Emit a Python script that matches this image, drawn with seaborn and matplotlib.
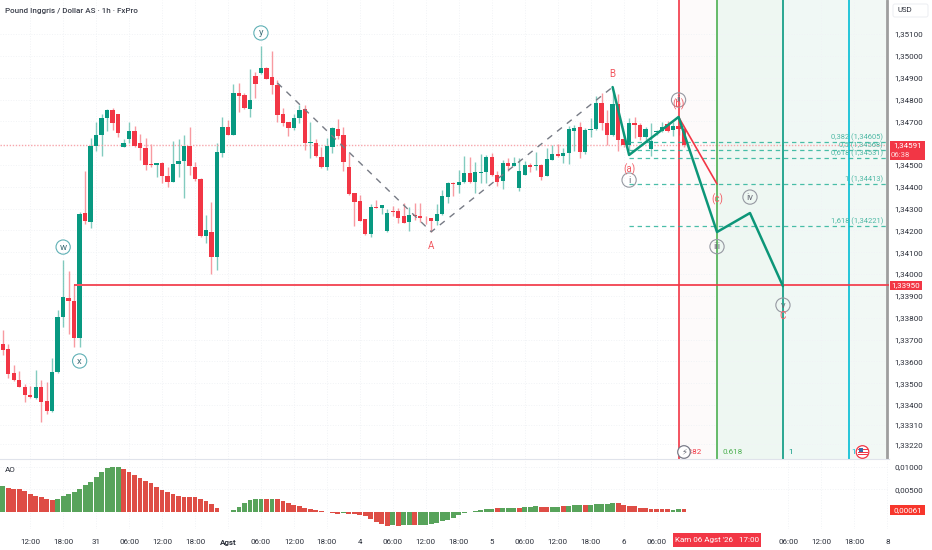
import numpy as np
import pandas as pd
import matplotlib
matplotlib.use("Agg")
import matplotlib.pyplot as plt
import matplotlib.transforms as mtransforms
from matplotlib.patches import Rectangle, Circle, FancyBboxPatch
import seaborn as sns

# candle values
open_ = [1.33680, 1.33655, 1.33548, 1.33515, 1.33484, 1.33446, 1.33432, 1.33484, 1.33418, 1.33373,
         1.33550, 1.33802, 1.33892, 1.33877, 1.33707, 1.34280, 1.34240, 1.34587, 1.34639, 1.34715,
         1.34752, 1.34734, 1.34581, 1.34618, 1.34657, 1.34599, 1.34577, 1.34505, 1.34500, 1.34508,
         1.34450, 1.34422, 1.34506, 1.34517, 1.34587, 1.34492, 1.34436, 1.34175, 1.34193, 1.34080,
         1.34556, 1.34676, 1.34639, 1.34831, 1.34819, 1.34757, 1.34908, 1.34922, 1.34943, 1.34903,
         1.34867, 1.34732, 1.34696, 1.34670, 1.34714, 1.34757, 1.34599, 1.34602, 1.34538, 1.34492,
         1.34584, 1.34666, 1.34637, 1.34489, 1.34370, 1.34336, 1.34251, 1.34182, 1.34308, 1.34304,
         1.34196, 1.34291, 1.34288, 1.34266, 1.34237, 1.34271, 1.34265, 1.34258, 1.34256, 1.34243,
         1.34275, 1.34353, 1.34418, 1.34408, 1.34421, 1.34462, 1.34421, 1.34465, 1.34468, 1.34537,
         1.34454, 1.34427, 1.34511, 1.34497, 1.34393, 1.34454, 1.34501, 1.34497, 1.34501, 1.34450,
         1.34523, 1.34550, 1.34541, 1.34554, 1.34657, 1.34674, 1.34560, 1.34660, 1.34664, 1.34783,
         1.34692, 1.34636, 1.34780, 1.34618, 1.34592, 1.34691, 1.34683, 1.34627, 1.34573, 1.34653,
         1.34657, 1.34687, 1.34660, 1.34679, 1.34665]
high = [1.33744, 1.33680, 1.33583, 1.33556, 1.33496, 1.33487, 1.33562, 1.33516, 1.33505, 1.33617,
        1.33835, 1.34065, 1.34016, 1.33950, 1.34285, 1.34473, 1.34624, 1.34698, 1.34734, 1.34757,
        1.34761, 1.34734, 1.34618, 1.34696, 1.34679, 1.34642, 1.34624, 1.34595, 1.34511, 1.34512,
        1.34492, 1.34610, 1.34619, 1.34637, 1.34676, 1.34515, 1.34440, 1.34271, 1.34330, 1.34599,
        1.34721, 1.34706, 1.34871, 1.34874, 1.34829, 1.34939, 1.34925, 1.35045, 1.34951, 1.35022,
        1.34890, 1.34760, 1.34698, 1.34734, 1.34774, 1.34775, 1.34698, 1.34618, 1.34582, 1.34622,
        1.34672, 1.34709, 1.34673, 1.34554, 1.34372, 1.34363, 1.34253, 1.34321, 1.34340, 1.34318,
        1.34297, 1.34313, 1.34302, 1.34324, 1.34309, 1.34324, 1.34324, 1.34266, 1.34258, 1.34320,
        1.34385, 1.34421, 1.34423, 1.34477, 1.34541, 1.34535, 1.34515, 1.34549, 1.34546, 1.34556,
        1.34474, 1.34523, 1.34533, 1.34535, 1.34531, 1.34520, 1.34511, 1.34560, 1.34505, 1.34577,
        1.34592, 1.34596, 1.34577, 1.34679, 1.34683, 1.34698, 1.34668, 1.34714, 1.34816, 1.34829,
        1.34752, 1.34836, 1.34825, 1.34637, 1.34714, 1.34721, 1.34691, 1.34673, 1.34692, 1.34660,
        1.34698, 1.34703, 1.34698, 1.34715, 1.34671]
low = [1.33629, 1.33524, 1.33510, 1.33483, 1.33414, 1.33432, 1.33428, 1.33324, 1.33359, 1.33370,
       1.33548, 1.33758, 1.33727, 1.33667, 1.33667, 1.34230, 1.34211, 1.34566, 1.34541, 1.34656,
       1.34660, 1.34630, 1.34581, 1.34599, 1.34581, 1.34523, 1.34477, 1.34492, 1.34444, 1.34416,
       1.34399, 1.34420, 1.34444, 1.34350, 1.34454, 1.34428, 1.34170, 1.34144, 1.34000, 1.34019,
       1.34537, 1.34636, 1.34636, 1.34744, 1.34757, 1.34721, 1.34808, 1.34917, 1.34893, 1.34825,
       1.34697, 1.34679, 1.34634, 1.34660, 1.34694, 1.34569, 1.34532, 1.34535, 1.34486, 1.34477,
       1.34554, 1.34618, 1.34473, 1.34363, 1.34222, 1.34243, 1.34180, 1.34171, 1.34303, 1.34275,
       1.34194, 1.34266, 1.34233, 1.34234, 1.34198, 1.34248, 1.34240, 1.34230, 1.34194, 1.34225,
       1.34271, 1.34327, 1.34358, 1.34370, 1.34419, 1.34419, 1.34370, 1.34419, 1.34416, 1.34450,
       1.34404, 1.34391, 1.34474, 1.34496, 1.34381, 1.34452, 1.34467, 1.34477, 1.34431, 1.34448,
       1.34521, 1.34538, 1.34508, 1.34505, 1.34566, 1.34531, 1.34549, 1.34627, 1.34662, 1.34662,
       1.34592, 1.34634, 1.34564, 1.34582, 1.34569, 1.34624, 1.34615, 1.34615, 1.34541, 1.34637,
       1.34653, 1.34653, 1.34633, 1.34637, 1.34584]
close = [1.33652, 1.33542, 1.33515, 1.33484, 1.33446, 1.33437, 1.33484, 1.33414, 1.33373, 1.33553,
         1.33802, 1.33894, 1.33875, 1.33706, 1.34275, 1.34243, 1.34587, 1.34639, 1.34715, 1.34752,
         1.34691, 1.34645, 1.34599, 1.34657, 1.34588, 1.34577, 1.34500, 1.34499, 1.34508, 1.34451,
         1.34422, 1.34505, 1.34518, 1.34587, 1.34495, 1.34436, 1.34175, 1.34202, 1.34080, 1.34560,
         1.34673, 1.34639, 1.34829, 1.34816, 1.34760, 1.34798, 1.34871, 1.34946, 1.34896, 1.34867,
         1.34729, 1.34691, 1.34670, 1.34714, 1.34752, 1.34599, 1.34607, 1.34541, 1.34489, 1.34587,
         1.34670, 1.34633, 1.34515, 1.34367, 1.34332, 1.34245, 1.34184, 1.34309, 1.34304, 1.34317,
         1.34281, 1.34286, 1.34257, 1.34236, 1.34272, 1.34266, 1.34257, 1.34256, 1.34243, 1.34275,
         1.34358, 1.34419, 1.34412, 1.34421, 1.34462, 1.34421, 1.34468, 1.34469, 1.34537, 1.34453,
         1.34423, 1.34508, 1.34497, 1.34511, 1.34471, 1.34501, 1.34489, 1.34501, 1.34446, 1.34528,
         1.34550, 1.34541, 1.34554, 1.34665, 1.34671, 1.34558, 1.34660, 1.34665, 1.34783, 1.34691,
         1.34637, 1.34780, 1.34615, 1.34592, 1.34691, 1.34683, 1.34627, 1.34665, 1.34610, 1.34657,
         1.34676, 1.34657, 1.34679, 1.34665, 1.34591]

# awesome oscillator
ao_values = [0.00566, 0.00529, 0.00515, 0.00508, 0.00457, 0.00399, 0.00355, 0.00334, 0.00290, 0.00276,
             0.00297, 0.00355, 0.00406, 0.00442, 0.00515, 0.00602, 0.00667, 0.00769, 0.00877, 0.00964,
             0.00986, 0.00986, 0.00950, 0.00892, 0.00827, 0.00747, 0.00689, 0.00638, 0.00551, 0.00479,
             0.00435, 0.00399, 0.00363, 0.00341, 0.00341, 0.00341, 0.00297, 0.00239, 0.00174, 0.00094,
             0.00015, 0.00007, 0.00051, 0.00123, 0.00203, 0.00276, 0.00290, 0.00297, 0.00297, 0.00297,
             0.00283, 0.00254, 0.00196, 0.00160, 0.00131, 0.00102, 0.00073, 0.00058, 0.00036, 0.00015,
             -0.00022, -0.00036, -0.00022, -0.00029, -0.00036, -0.00058, -0.00087, -0.00145, -0.00218, -0.00268,
             -0.00297, -0.00290, -0.00305, -0.00290, -0.00290, -0.00290, -0.00283, -0.00276, -0.00254, -0.00232,
             -0.00203, -0.00167, -0.00123, -0.00065, -0.00022, 0.00007, 0.00022, 0.00058, 0.00073, 0.00080,
             0.00087, 0.00102, 0.00102, 0.00102, 0.00102, 0.00109, 0.00123, 0.00131, 0.00109, 0.00109,
             0.00116, 0.00123, 0.00131, 0.00145, 0.00152, 0.00152, 0.00152, 0.00160, 0.00181, 0.00181,
             0.00181, 0.00196, 0.00196, 0.00167, 0.00131, 0.00131, 0.00102, 0.00087, 0.00073, 0.00073,
             0.00073, 0.00065, 0.00058, 0.00065, 0.00061]
ao_dir = list("GRRRRRRRRRGGGGGGGGGGGGRRRRRRRRRRRRRRRRRRRRGGGGGGRGRRRRRRRRRRRRGRRRRRRRR"
              "GRGGRGGGGGGGGGGGGGGRGGGRGGGRRGGRGGGRGGGGGRRRRRRRRRRGGR")

# time axis
time_pos = [5, 11, 17, 23, 29, 35, 41, 47, 53, 59, 65, 71, 77, 83, 89, 95, 101, 107, 113, 119, 143, 149, 155, 161]
time_labels = ["12:00", "18:00", "31", "06:00", "12:00", "18:00", "Agst", "06:00", "12:00", "18:00", "4",
               "06:00", "12:00", "18:00", "5", "06:00", "12:00", "18:00", "6", "06:00", "06:00", "12:00",
               "18:00", "8"]

# price axis, 1,34600 sits behind the last price tag
price_ticks = [1.351, 1.350, 1.349, 1.348, 1.347, 1.345, 1.344, 1.343, 1.342, 1.341, 1.340, 1.339,
               1.338, 1.337, 1.336, 1.335, 1.334, 1.3331, 1.3322]
ao_ticks = [0.01, 0.005]

# drawings
zigzag_x = [50, 78, 111]
zigzag_y = [1.34876, 1.34194, 1.34857]
wave_x = [111, 114, 123, 130, 136, 142]
wave_y = [1.34857, 1.34546, 1.34720, 1.34193, 1.34280, 1.33945]
corr_x = [123, 130]
corr_y = [1.34720, 1.34413]
fib_levels = [1.34605, 1.34568, 1.34531, 1.34413, 1.34221]
fib_names = ["0,382 (1,34605)", "0,5 (1,34568)", "0,618 (1,34531)", "1 (1,34413)", "1,618 (1,34221)"]
last_price = 1.34591
target_price = 1.3395
zone_x = [123, 130, 142, 154, 161]
zone_colors = ["#f23645", "#4caf50", "#089981", "#00bcd4", "#9e9e9e"]
zone_fill = ["#fdfafa", "#eef7f2", "#f0f8f5", "#f2f8f5"]
zone_names = ["0.382", "0.618", "1", "1."]

circle_names = ["y", "w", "x"]
circle_x = [47, 11, 14]
circle_y = [1.35105, 1.34124, 1.33602]
roman_names = ["ii", "i", "iii", "iv", "v"]
roman_x = [123, 114, 130, 136, 142]
roman_y = [1.34798, 1.34431, 1.34126, 1.34353, 1.33858]
red_names = ["A", "B", "C", "(a)", "(c)", "(b)"]
red_x = [78, 111, 142, 114, 130, 123]
red_y = [1.34130, 1.34917, 1.33808, 1.34482, 1.34344, 1.34780]

GREEN = "#089981"
RED = "#f23645"
AO_GREEN = "#4caf50"
AO_RED = "#f7362c"
TEXT = "#2a2e39"
GRID = "#f1f3f6"

sns.set_theme(style="white")
plt.rcParams["font.family"] = ["Roboto", "DejaVu Sans"]

W, H = 932, 550
fig = plt.figure(figsize=(W / 100, H / 100), dpi=100, facecolor="white")
# pixel coordinates, origin top left, for the price tags and icons
pxt = mtransforms.Affine2D().scale(1, -1).translate(0, H)

ax = fig.add_axes([0, 1 - 459 / H, 889 / W, 459 / H])
ax_ao = fig.add_axes([0, 1 - 529 / H, 889 / W, 70 / H])

df = pd.DataFrame({"open": open_, "high": high, "low": low, "close": close})
df["bar"] = np.arange(len(df))
df["up"] = df["close"] >= df["open"]
df["color"] = np.where(df["up"], GREEN, RED)
df["top"] = df[["open", "close"]].max(axis=1)
df["bot"] = df[["open", "close"]].min(axis=1)

# fib time zones
for i in range(len(zone_x) - 1):
    ax.axvspan(zone_x[i], zone_x[i + 1], color=zone_fill[i], lw=0, zorder=0)

ax.set_xlim(-0.49, 161.3)
ax.set_ylim(1.33153, 1.35256)

for x in time_pos:
    ax.axvline(x, color=GRID, lw=0.7, ls=":", zorder=0.5)
    ax_ao.axvline(x, color=GRID, lw=0.7, ls=":", zorder=0.5)
for y in price_ticks:
    ax.axhline(y, color=GRID, lw=0.7, ls=":", zorder=0.5)

# candles
ax.vlines(df["bar"], df["low"], df["high"], colors=df["color"], lw=1.0, alpha=0.5, zorder=2)
ax.bar(df["bar"], df["top"] - df["bot"], bottom=df["bot"], width=0.78, color=df["color"], lw=0, zorder=3)

# last price and target
ax.axhline(last_price, color="#f7a6ac", lw=1.0, ls=(0, (1, 1.2)), zorder=2.5)
ax.hlines(target_price - 0.00002, 13, 161.3, color="#f9b4ba", lw=1.4, zorder=4)
ax.hlines(target_price, 13, 161.3, color=RED, lw=1.1, zorder=4.1)
ax.vlines(13, target_price, target_price + 0.00004, color=RED, lw=0.8, zorder=4)

for x, c in zip(zone_x, zone_colors):
    ax.axvline(x, color=c, lw=1.2 if c != "#9e9e9e" else 2.0, zorder=4)

# fib levels
for lev, name in zip(fib_levels, fib_names):
    ax.hlines(lev, 114, 161, color="#2bb39a", lw=0.9, ls=(0, (3.5, 3)), zorder=4, alpha=0.85)
    ax.text(160.2, lev + 0.00005, name, color="#4db8a4", fontsize=5.4, ha="right", va="bottom", zorder=5)

# wave lines
sns.lineplot(x=zigzag_x, y=zigzag_y, ax=ax, sort=False, estimator=None, color="#777b85", lw=1.0,
             ls=(0, (4.5, 4.5)), zorder=5)
sns.lineplot(x=wave_x, y=wave_y, ax=ax, sort=False, estimator=None, color="#0c9678", lw=1.8, zorder=6)
sns.lineplot(x=corr_x, y=corr_y, ax=ax, sort=False, estimator=None, color=RED, lw=1.2, zorder=5.5)

# wave labels
ax.scatter(circle_x, circle_y, s=105, fc="none", ec="#5fb0b5", lw=0.8, zorder=7)
for n, x, y in zip(circle_names, circle_x, circle_y):
    ax.text(x, y, n, color="#3f6f78", fontsize=6.8, ha="center", va="center", zorder=7)
ax.scatter(roman_x, roman_y, s=105, fc="none", ec="#9598a1", lw=0.8, zorder=7)
for n, x, y in zip(roman_names, roman_x, roman_y):
    ax.text(x, y, n, color="#6a6d78", fontsize=6.8, ha="center", va="center", zorder=7)
for n, x, y in zip(red_names, red_x, red_y):
    ax.text(x, y, n, color="#f2575f", fontsize=7, ha="center", va="center", zorder=7)

# zone names at the bottom
zone_name_x = [127.2, 131, 143, 154.4]
for n, x, c in zip(zone_names, zone_name_x, zone_colors):
    ax.text(x, 1.33172, n, color=c, fontsize=5.8, ha="right" if n == "0.382" else "left", va="bottom", zorder=5)

ax.yaxis.tick_right()
ax.set_yticks(price_ticks)
ax.set_yticklabels([f"{p:.5f}".replace(".", ",") for p in price_ticks])
ax.tick_params(axis="y", length=0, pad=4, labelsize=5.8, labelcolor=TEXT)
ax.set_xticks([])
for s in ax.spines.values():
    s.set_visible(False)

# AO pane
ao_df = pd.DataFrame({"bar": np.arange(len(ao_values)), "ao": ao_values, "dir": ao_dir})
sns.barplot(data=ao_df, x="bar", y="ao", hue="dir", palette={"G": AO_GREEN, "R": AO_RED}, native_scale=True,
            dodge=False, width=0.88, legend=False, lw=0, ax=ax_ao, zorder=3)
ax_ao.set_xlim(-0.49, 161.3)
ax_ao.set_ylim(-0.00368, 0.01169)
ax_ao.set_xlabel("")
ax_ao.set_ylabel("")
ax_ao.yaxis.tick_right()
ax_ao.set_yticks(ao_ticks)
ax_ao.set_yticklabels([f"{v:.5f}".replace(".", ",") for v in ao_ticks])
ax_ao.tick_params(axis="y", length=0, pad=4, labelsize=5.8, labelcolor=TEXT)
for y in ao_ticks:
    ax_ao.axhline(y, color=GRID, lw=0.7, ls=":", zorder=0.5)
ax_ao.set_xticks(time_pos)
ax_ao.set_xticklabels(time_labels)
ax_ao.tick_params(axis="x", length=0, pad=7, labelsize=5.8, labelcolor=TEXT)
for lab in ax_ao.get_xticklabels():
    if lab.get_text() == "Agst":
        lab.set_fontweight("bold")
for s in ax_ao.spines.values():
    s.set_visible(False)
ax_ao.spines["top"].set_visible(True)
ax_ao.spines["top"].set_color("#e0e3eb")
ax_ao.spines["top"].set_linewidth(0.8)


def tag(x0, y0, x1, y1, color):
    fig.add_artist(Rectangle((x0, y0), x1 - x0, y1 - y0, transform=pxt, fc=color, ec="none", zorder=10))


def label(x, y, s, color="white", size=5.8, ha="center", weight="normal"):
    fig.text(x, y, s, transform=pxt, color=color, fontsize=size, ha=ha, va="center", zorder=11, fontweight=weight)


# title and pane name
label(5, 10.5, "Pound Inggris / Dollar AS · 1h · FxPro", color="#3a3e4a", size=5.8, ha="left", weight="medium")
label(5, 470, "AO", color=TEXT, size=5.8, ha="left")

# tags on the price axis
tag(890, 141, 925, 160, RED)
label(907.5, 145.5, "1,34591")
label(900, 155, "06:38", color="#ffd9dc", size=5.6)
tag(890, 280.7, 922, 290, RED)
label(906, 285.5, "1,33950")
tag(890, 505, 925, 515, "#f7362c")
label(907.5, 510, "0,00061")
tag(672.7, 532.7, 761, 547, RED)
label(717, 540, "Kam 06 Agst '26   17:00", size=5.8)

# USD button
fig.add_artist(FancyBboxPatch((893, 4), 35, 13, boxstyle="round,pad=0,rounding_size=2", transform=pxt,
                              fc="white", ec="#eceef2", lw=0.7, zorder=10))
label(897, 10.5, "USD", color=TEXT, size=5.6, ha="left")

# event icons on the time scale edge
fig.add_artist(Circle((684, 452), 6.3, transform=pxt, fc="white", ec="#7a7d8a", lw=0.9, zorder=10))
label(684, 452, "\u26a1", color="#666a75", size=6)
fig.add_artist(Circle((862.5, 452), 6.3, transform=pxt, fc="white", ec=RED, lw=0.9, zorder=10))
for dy in (-2.4, 0, 2.4):
    fig.add_artist(Rectangle((857.5, 452 + dy - 0.5), 10, 1, transform=pxt, fc=RED, ec="none", zorder=11))
fig.add_artist(Rectangle((858.5, 447.5), 4.2, 4, transform=pxt, fc="#3b6ea8", ec="none", zorder=12))

fig.savefig("out.png", dpi=100, facecolor="white")
